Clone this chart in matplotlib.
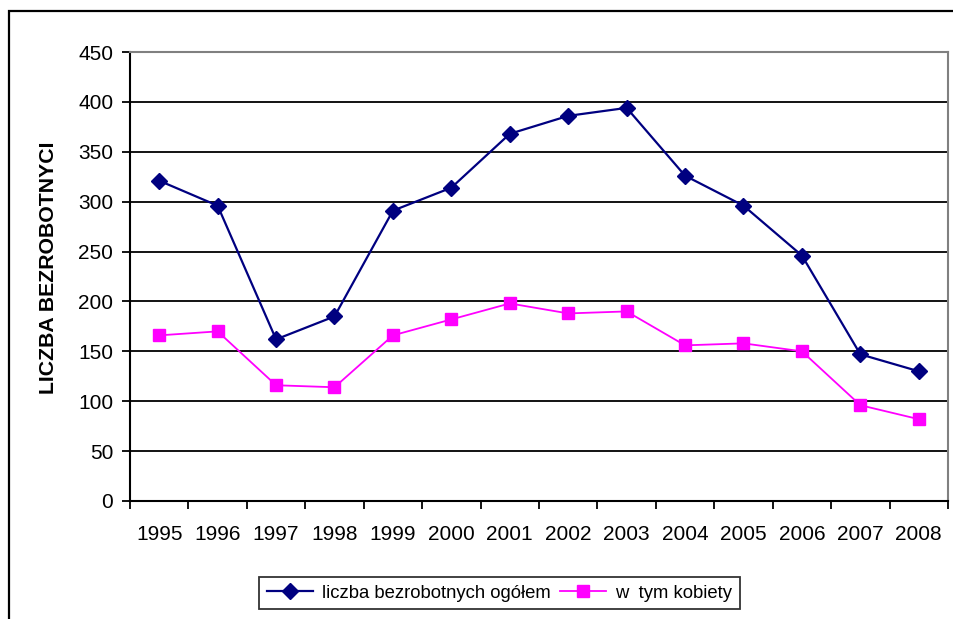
import numpy as np
import matplotlib.pyplot as plt
from matplotlib.patches import Rectangle

plt.rcParams['font.family'] = ['Liberation Sans', 'DejaVu Sans']

years = ['1995', '1996', '1997', '1998', '1999', '2000', '2001',
         '2002', '2003', '2004', '2005', '2006', '2007', '2008']
ogolem = [321, 296, 162, 185, 291, 314, 368, 386, 394, 326, 296, 246, 147, 130]
kobiety = [166, 170, 116, 114, 166, 182, 198, 188, 190, 156, 158, 150, 96, 82]
yticks = [0, 50, 100, 150, 200, 250, 300, 350, 400, 450]

W, H = 954, 619
fig = plt.figure(figsize=(W / 100, H / 100), dpi=100)

# outer chart border (cropped on the right and bottom)
fig.patches.append(Rectangle((9 / W, -0.1), 1.2, 1 - 11 / H + 0.1,
                             transform=fig.transFigure, fill=False,
                             edgecolor='black', linewidth=1.6))

ax = fig.add_axes([130 / W, (H - 501) / H, (948 - 130) / W, (501 - 52) / H])
x = np.arange(len(years))

ax.plot(x, ogolem, color='#000080', linewidth=1.6, marker='D',
        markersize=8.5, label='liczba bezrobotnych ogółem', zorder=3)
ax.plot(x, kobiety, color='#FF00FF', linewidth=1.3, marker='s',
        markersize=8.5, label='w  tym kobiety', zorder=3)

ax.set_ylim(0, 450)
ax.set_yticks(yticks)
ax.set_xlim(-0.5, len(years) - 0.5)
ax.set_xticks(np.arange(-0.5, len(years), 1.0))
ax.set_xticklabels([])
ax.set_xticks(x, minor=True)
ax.set_xticklabels(years, minor=True)
ax.tick_params(axis='x', which='minor', length=0, pad=17, labelsize=15)
ax.tick_params(axis='x', which='major', length=6, width=1.3, direction='out')
ax.tick_params(axis='y', length=6, width=1.3, direction='out', pad=6,
               labelsize=15)

ax.grid(axis='y', color='black', linewidth=1.3)
ax.set_axisbelow(True)
for s in ['left', 'bottom']:
    ax.spines[s].set_color('black')
    ax.spines[s].set_linewidth(1.5)
for s in ['top', 'right']:
    ax.spines[s].set_color('#808080')
    ax.spines[s].set_linewidth(1.5)

ax.set_ylabel('LICZBA BEZROBOTNYCI', fontsize=15.3, fontweight='bold')
ax.yaxis.set_label_coords((58 - 130) / 818, (501 - 268) / 449)

leg = fig.legend(loc='center', bbox_to_anchor=((259 + 740) / 2 / W, 1 - 593 / H),
                 ncol=2, fontsize=13.3, frameon=True, fancybox=False,
                 handlelength=2.5, columnspacing=0.5, handletextpad=0.5,
                 borderpad=0.4)
leg.get_frame().set_edgecolor('black')
leg.get_frame().set_linewidth(1.3)

fig.savefig('out.png', dpi=100)
